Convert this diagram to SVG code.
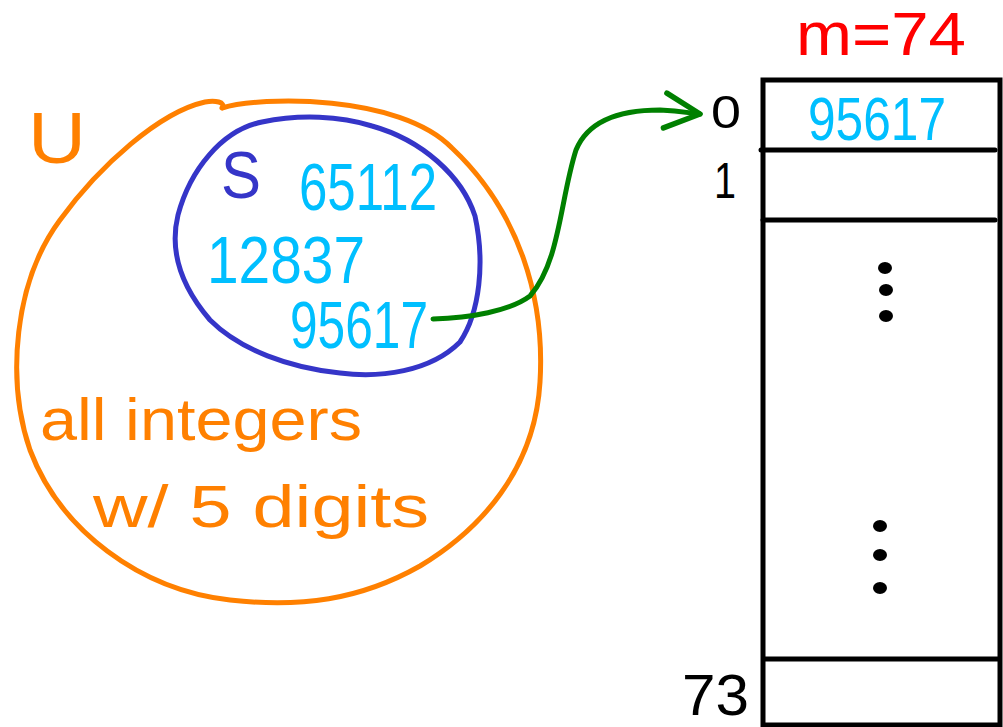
<svg xmlns="http://www.w3.org/2000/svg" width="1003" height="727" viewBox="0 0 1003 727">
<style>
.stroke{fill:none;stroke-linecap:round;stroke-linejoin:round}
.t{font-family:"Liberation Sans","DejaVu Sans",sans-serif}
.cy{fill:#00bfff}
.or{fill:#ff8000}
.bk{fill:#000}
</style>
<defs>
<marker id="arr" markerWidth="10" markerHeight="10" refX="8" refY="5" orient="auto" markerUnits="strokeWidth"><path d="M1,1.5 L8,5 L1,8.5" fill="none" stroke="#008000" stroke-width="1.1" stroke-linecap="round" stroke-linejoin="round"/></marker>
</defs>
<rect width="1003" height="727" fill="#fff"/>
<g id="universe">
<path class="stroke" stroke="#ff8000" stroke-width="5" d="M 222,108 C 260,96 400,94 452,148 C 520,212 545,300 540,382 C 535,470 480,530 420,566 C 360,600 300,608 230,600 C 140,590 60,530 30,450 C 6,380 14,282 60,220 C 100,165 160,112 205,102 C 215,100 226,102 222,108"/>
<text class="t or" x="28" y="163" font-size="72" textLength="58" lengthAdjust="spacingAndGlyphs">U</text>
<text class="t or" x="40" y="440" font-size="60" textLength="322" lengthAdjust="spacingAndGlyphs">all integers</text>
<text class="t or" x="93" y="527" font-size="60" textLength="336" lengthAdjust="spacingAndGlyphs">w/ 5 digits</text>
</g>
<g id="set-s">
<path class="stroke" stroke="#3535c8" stroke-width="5" d="M 262,122 C 300,114 340,116 372,126 C 422,140 462,176 475,216 C 485,262 480,312 460,342 C 430,372 380,378 340,373 C 290,368 240,350 210,320 C 186,292 168,256 178,215 C 190,170 222,130 262,122 Z"/>
<text class="t" fill="#3535c8" x="221" y="198" font-size="66" textLength="40" lengthAdjust="spacingAndGlyphs">S</text>
<text class="t cy" x="299" y="210" font-size="66" textLength="138" lengthAdjust="spacingAndGlyphs">65112</text>
<text class="t cy" x="207" y="283" font-size="66" textLength="158" lengthAdjust="spacingAndGlyphs">12837</text>
<text class="t cy" x="290" y="348" font-size="66" textLength="138" lengthAdjust="spacingAndGlyphs">95617</text>
</g>
<g id="table">
<rect x="763" y="80" width="237" height="645" fill="none" stroke="#000" stroke-width="5"/>
<line x1="761" y1="150" x2="995" y2="150" stroke="#000" stroke-width="5" stroke-linecap="round"/>
<line x1="763" y1="220" x2="995" y2="220" stroke="#000" stroke-width="5" stroke-linecap="round"/>
<line x1="763" y1="659" x2="1000" y2="659" stroke="#000" stroke-width="5"/>
<text class="t" fill="#ff0000" x="796" y="55" font-size="62" textLength="170" lengthAdjust="spacingAndGlyphs">m=74</text>
<text class="t cy" x="808" y="140" font-size="62" textLength="138" lengthAdjust="spacingAndGlyphs">95617</text>
<text class="t bk" x="711" y="128" font-size="46" textLength="30" lengthAdjust="spacingAndGlyphs">0</text>
<text class="t bk" x="714" y="198" font-size="50" textLength="22" lengthAdjust="spacingAndGlyphs">1</text>
<text class="t bk" x="682" y="715" font-size="58" textLength="67" lengthAdjust="spacingAndGlyphs">73</text>
<g class="bk">
<ellipse cx="885" cy="268" rx="7" ry="6"/>
<ellipse cx="886" cy="290" rx="7" ry="6"/>
<ellipse cx="886" cy="316" rx="7" ry="6"/>
<ellipse cx="880" cy="526" rx="7" ry="6"/>
<ellipse cx="880" cy="555" rx="7" ry="6"/>
<ellipse cx="880" cy="588" rx="7" ry="6"/>
</g>
</g>
<g id="connectors">
<path class="stroke" stroke="#008000" stroke-width="5" marker-end="url(#arr)" d="M 433,319 C 470,318 510,311 530,296 C 560,262 560,200 576,150 C 590,116 630,110 660,110 C 680,111 690,113 700,114"/>
</g>
</svg>
